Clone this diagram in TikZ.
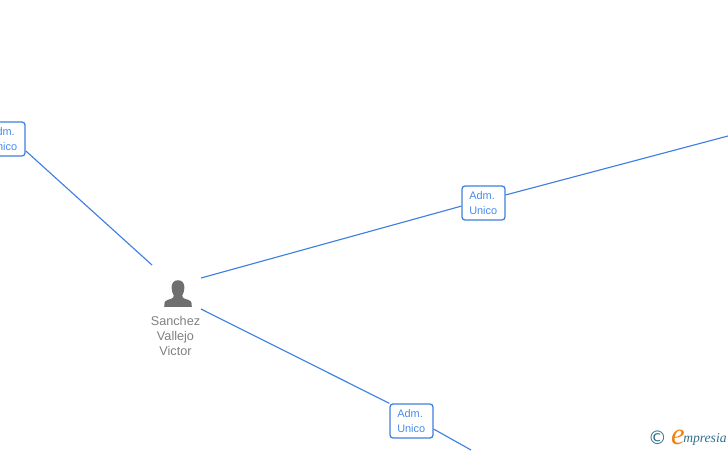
\documentclass[tikz,border=0pt]{standalone}
\usepackage{fontspec}
\setmainfont{Liberation Sans}
\newfontfamily\logofont{Liberation Serif}
\newfontfamily\logosym{DejaVu Sans}
\definecolor{linkblue}{HTML}{3F7FE0}
\definecolor{labelblue}{HTML}{4A8CEB}
\definecolor{persongray}{HTML}{6F6F6F}
\definecolor{namegray}{HTML}{808080}
\definecolor{logoteal}{HTML}{2F6F8F}
\definecolor{logoorange}{HTML}{F08010}
\tikzset{
  link/.style={draw=linkblue,line width=0.85pt},
  rolebox/.style={draw=linkblue,line width=0.95pt,fill=white,rounded corners=2.2pt,
    minimum width=32.2pt,minimum height=25.5pt,inner sep=0pt},
  roletext/.style={text=labelblue,inner sep=0pt,align=left,anchor=west,
    font=\fontsize{8.2pt}{11.2pt}\selectfont},
  namelabel/.style={text=namegray,align=center,inner sep=0pt,font=\fontsize{9.5pt}{11.2pt}\selectfont}
}
\begin{document}
\begin{tikzpicture}[x=0.75pt,y=-0.75pt]
\useasboundingbox (0,0) rectangle (728,450);
\clip (0,0) rectangle (728,450);
\node[rolebox] (r1) at (3.5,139) {};
\node[rolebox] (r2) at (483.5,203) {};
\node[rolebox] (r3) at (411.5,421) {};
\node[roletext] (t1) at (-11,139) {Adm.\\Unico};
\node[roletext] (t2) at (469,203) {Adm.\\Unico};
\node[roletext] (t3) at (397,421) {Adm.\\Unico};
\coordinate (p1) at (152,265);
\coordinate (p2) at (201,278);
\coordinate (p3) at (201,309);
\coordinate (e2) at (728,136);
\coordinate (e3) at (471,450);
\draw[link] (r1.-28) -- (p1);
\draw[link] (p2) -- (r2.188);
\draw[link] (r2.20) -- (e2);
\draw[link] (p3) -- (r3.north west);
\draw[link] (r3.-20) -- (e3);
% person icon
\fill[persongray] (178,280.2) .. controls (173.6,280.2) and (171.5,283.4) .. (171.6,287.6)
  .. controls (171.7,291) and (172.6,293.4) .. (173.6,295.2)
  .. controls (173.8,296.8) and (173.4,297.8) .. (172,298.4)
  .. controls (169,299.6) and (165.2,300.2) .. (164.6,302.4)
  -- (164.2,306.8) -- (191.8,306.8) -- (191.4,302.4)
  .. controls (190.8,300.2) and (187,299.6) .. (184,298.4)
  .. controls (182.6,297.8) and (182.2,296.8) .. (182.4,295.2)
  .. controls (183.4,293.4) and (184.3,291) .. (184.4,287.6)
  .. controls (184.5,283.4) and (182.4,280.2) .. (178,280.2) -- cycle;
\node[namelabel] (name) at (175.5,336) {Sanchez\\Vallejo\\Victor};
% logo
\node[text=logoteal,inner sep=0pt,font=\logosym\fontsize{14pt}{14pt}\selectfont] (copy) at (657.5,438) {©};
\node[text=logoorange,inner sep=0pt,font=\logofont\itshape\fontsize{23pt}{23pt}\selectfont] (le) at (678,437.5) {e};
\node[text=logoteal,inner sep=0pt,anchor=base west,font=\logofont\itshape\fontsize{10.2pt}{10pt}\selectfont] (lt) at (683,442.5) {mpresia};
\end{tikzpicture}
\end{document}
